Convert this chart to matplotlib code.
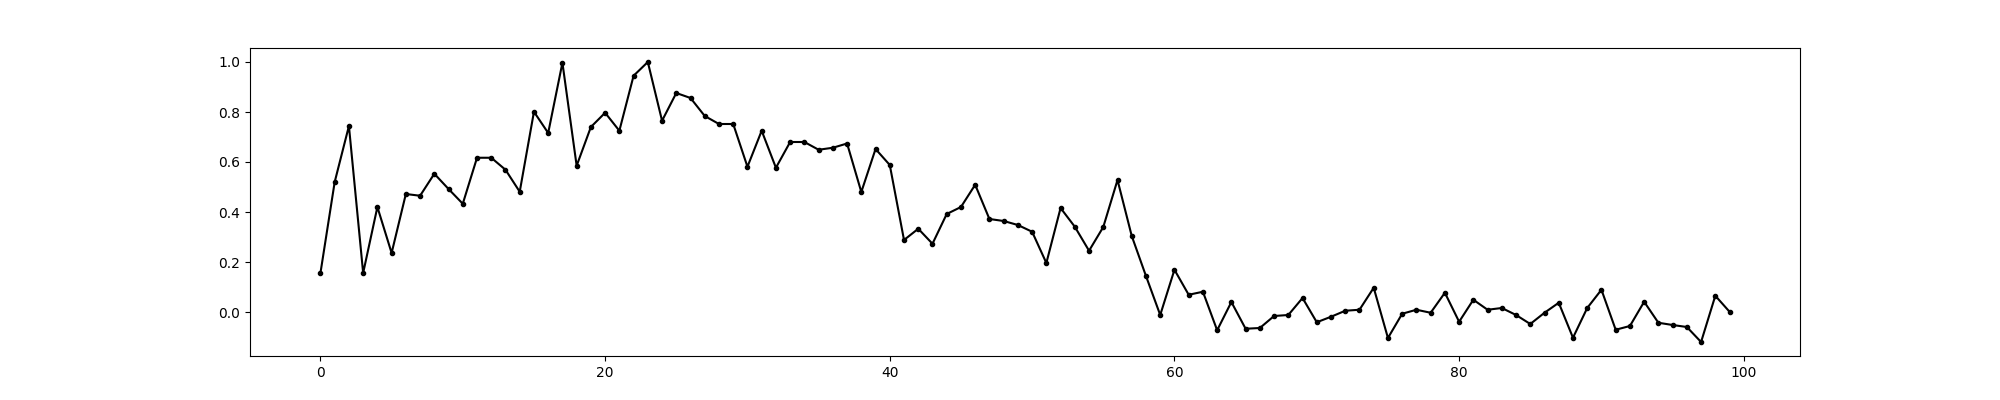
import numpy as np
import matplotlib
matplotlib.use("Agg")
import matplotlib.pyplot as plt

# values, one per step (0..99)
steps = np.arange(100)
values = [
    0.156, 0.520, 0.744, 0.156, 0.420, 0.236, 0.472, 0.465, 0.553, 0.492,
    0.433, 0.617, 0.617, 0.569, 0.481, 0.801, 0.716, 0.997, 0.585, 0.740,
    0.797, 0.725, 0.945, 1.000, 0.765, 0.876, 0.856, 0.784, 0.752, 0.752,
    0.581, 0.725, 0.577, 0.680, 0.680, 0.649, 0.657, 0.674, 0.480, 0.652,
    0.588, 0.288, 0.333, 0.273, 0.392, 0.420, 0.509, 0.372, 0.364, 0.348,
    0.321, 0.196, 0.416, 0.341, 0.245, 0.340, 0.528, 0.304, 0.144, -0.012,
    0.169, 0.069, 0.081, -0.073, 0.040, -0.067, -0.064, -0.016, -0.012, 0.056,
    -0.041, -0.019, 0.005, 0.009, 0.097, -0.104, -0.007, 0.009, -0.003, 0.077,
    -0.039, 0.049, 0.009, 0.016, -0.012, -0.048, -0.003, 0.037, -0.103, 0.016,
    0.089, -0.071, -0.056, 0.041, -0.043, -0.052, -0.060, -0.120, 0.065, 0.001,
]

fig, ax = plt.subplots(figsize=(20, 4), dpi=100)
ax.plot(steps, values, "k.-")

fig.savefig("out.png", dpi=100)
